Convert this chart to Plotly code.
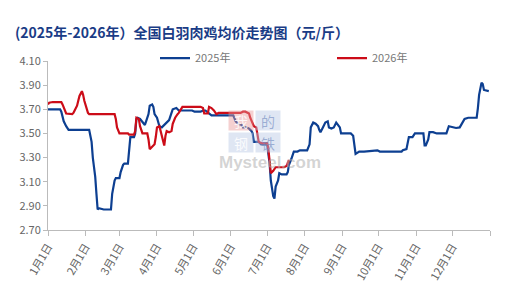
import plotly.graph_objects as go

# ---- data ----
title_text = "(2025年-2026年）全国白羽肉鸡均价走势图（元/斤）"
series_names = ["2025年", "2026年"]

dates_2025 = ["01-01","01-11","01-12","01-14","01-16","01-18","02-04","02-05","02-06","02-07",
              "02-09","02-10","02-11","02-12","02-16","02-22","02-23","02-25","02-26","03-01",
              "03-02","03-04","03-05","03-08","03-09","03-10","03-13","03-14","03-15","03-16",
              "03-18","03-20","03-21","03-22","03-23","03-25","03-26","03-28","03-29","03-30",
              "04-01","04-02","04-03","04-05","04-06","04-08","04-09","04-11","04-13","04-14",
              "04-17","04-19","04-30","05-02","05-07","05-09","05-11","05-14","05-16","06-03",
              "06-04","06-05","06-07","06-10","06-11","06-14","06-16","06-18","06-19","06-20",
              "06-24","06-26","07-01","07-03","07-04","07-06","07-07","07-08","07-10","07-11",
              "07-13","07-17","07-18","07-19","07-21","07-22","07-23","07-26","07-28","08-03",
              "08-05","08-06","08-08","08-10","08-12","08-13","08-14","08-16","08-18","08-20",
              "08-21","08-23","08-25","08-27","08-30","08-31","09-08","09-10","09-11","09-12",
              "09-15","09-19","09-30","10-02","10-20","10-21","10-24","10-26","10-29","10-31",
              "11-07","11-08","11-09","11-11","11-12","11-15","11-18","11-26","11-28","12-02",
              "12-04","12-07","12-08","12-11","12-14","12-21","12-22","12-23","12-25","12-26",
              "12-27","12-31"]
values_2025 = [3.70,3.70,3.68,3.60,3.56,3.53,3.53,3.47,3.43,3.30,
               3.14,3.00,2.87,2.88,2.87,2.87,3.00,3.11,3.13,3.13,
               3.18,3.24,3.25,3.25,3.39,3.47,3.47,3.50,3.62,3.63,
               3.62,3.59,3.58,3.57,3.60,3.66,3.73,3.74,3.72,3.66,
               3.63,3.58,3.56,3.55,3.56,3.58,3.59,3.61,3.67,3.70,
               3.71,3.69,3.69,3.68,3.68,3.69,3.69,3.67,3.65,3.65,
               3.63,3.60,3.58,3.57,3.55,3.55,3.54,3.52,3.50,3.43,
               3.43,3.41,3.41,3.25,3.11,2.98,2.96,3.06,3.11,3.17,
               3.16,3.16,3.18,3.24,3.29,3.33,3.35,3.35,3.36,3.36,
               3.41,3.55,3.59,3.58,3.56,3.53,3.51,3.55,3.59,3.60,
               3.55,3.54,3.55,3.59,3.55,3.50,3.50,3.48,3.39,3.33,
               3.35,3.35,3.36,3.35,3.35,3.36,3.37,3.47,3.47,3.50,
               3.50,3.40,3.40,3.45,3.51,3.51,3.50,3.50,3.56,3.55,
               3.545,3.55,3.57,3.62,3.63,3.63,3.71,3.82,3.92,3.91,
               3.86,3.85]

dates_2026 = ["01-01","01-02","01-05","01-12","01-13","01-14","01-16","01-21","01-22","01-23",
              "01-25","01-26","01-27","01-29","01-30","01-31","02-01","02-03","02-04","02-25",
              "02-26","02-27","03-01","03-08","03-09","03-13","03-14","03-15","03-17","03-18",
              "03-20","03-24","03-25","03-26","03-28","03-30","03-31","04-01","04-03","04-04",
              "04-06","04-07","04-08","04-09","04-11","04-13","04-14","04-16","04-18","04-19",
              "04-22","05-07","05-09","05-10","05-13","05-14","05-16","05-18","05-20","05-22",
              "06-09","06-11","06-13","06-16","06-17","06-19","06-20","06-22","06-23","06-24",
              "06-26","07-01","07-02","07-03","07-04","07-06","07-08","07-15","07-17","07-19"]
values_2026 = [3.74,3.755,3.76,3.76,3.74,3.71,3.665,3.66,3.67,3.69,
               3.73,3.77,3.81,3.85,3.82,3.77,3.73,3.67,3.66,3.66,
               3.62,3.55,3.50,3.50,3.49,3.49,3.52,3.63,3.62,3.56,
               3.50,3.50,3.45,3.37,3.39,3.41,3.47,3.55,3.56,3.52,
               3.45,3.40,3.48,3.52,3.51,3.52,3.58,3.63,3.66,3.67,
               3.72,3.72,3.71,3.665,3.665,3.72,3.71,3.69,3.66,3.67,
               3.67,3.68,3.68,3.665,3.63,3.59,3.56,3.55,3.48,3.43,
               3.42,3.42,3.37,3.26,3.17,3.19,3.22,3.22,3.23,3.28]

month_ticks = ["2025-%02d-01" % m for m in range(1, 13)] + ["2026-01-01"]
month_labels = ["%d月1日" % m for m in range(1, 13)] + [""]
y_ticks = [2.70, 2.90, 3.10, 3.30, 3.50, 3.70, 3.90, 4.10]

# ---- figure ----
FONT = "Microsoft YaHei, Noto Sans CJK SC, sans-serif"
W, H = 522, 295
L, R, T, B = 48, 32, 61, 63
PW, PH = W - L - R, H - T - B

def px_x(px):
    return (px - L) / PW

def px_y(py):
    return (H - B - py) / PH

fig = go.Figure()
fig.add_trace(go.Scatter(x=["2025-" + d for d in dates_2025], y=values_2025,
                         mode="lines", name=series_names[0],
                         line=dict(color="#0d3f91", width=2.2)))
fig.add_trace(go.Scatter(x=["2025-" + d for d in dates_2026], y=values_2026,
                         mode="lines", name=series_names[1],
                         line=dict(color="#cc0c18", width=2.2)))

fig.update_layout(
    width=W, height=H,
    margin=dict(l=L, r=R, t=T, b=B),
    paper_bgcolor="white", plot_bgcolor="white",
    font=dict(family=FONT, size=11, color="#666666"),
    showlegend=True,
    legend=dict(orientation="h", x=px_x(155), y=px_y(58), xanchor="left", yanchor="middle",
                font=dict(size=11, color="#777777"), entrywidth=132, entrywidthmode="pixels",
                bgcolor="rgba(0,0,0,0)", itemclick=False),
    xaxis=dict(type="date", range=["2025-01-01", "2026-01-01"],
               tickvals=month_ticks, ticktext=month_labels, tickangle=-60,
               showgrid=False, zeroline=False, showline=True, linecolor="#bbbbbb", linewidth=1,
               ticks="outside", ticklen=5, tickcolor="#bbbbbb",
               tickfont=dict(size=11, color="#666666")),
    yaxis=dict(range=[2.70, 4.10], tickvals=y_ticks, tickformat=".2f",
               showgrid=False, zeroline=False, showline=True, linecolor="#bbbbbb", linewidth=1,
               ticks="outside", ticklen=4, tickcolor="#bbbbbb",
               tickfont=dict(size=11, color="#666666")),
    hovermode=False,
)

fig.add_annotation(text="<b>" + title_text + "</b>", xref="paper", yref="paper",
                   x=px_x(13), y=px_y(32), xanchor="left", yanchor="middle", showarrow=False,
                   font=dict(family=FONT, size=14, color="#1a3c86"))

# watermark
wm_boxes = [("我", 241, 121, "rgba(232,150,150,0.45)", "rgba(255,255,255,0.85)"),
            ("的", 268, 121, "rgba(185,200,228,0.45)", "rgba(110,135,190,0.6)"),
            ("钢", 241, 143, "rgba(185,200,228,0.45)", "rgba(255,255,255,0.85)"),
            ("铁", 268, 143, "rgba(185,200,228,0.45)", "rgba(110,135,190,0.6)")]
for ch, cx, cy, bg, fc in wm_boxes:
    fig.add_annotation(text=ch, xref="paper", yref="paper", x=px_x(cx), y=px_y(cy),
                       xanchor="center", yanchor="middle", showarrow=False,
                       bgcolor=bg, borderpad=0, width=24, height=19,
                       font=dict(family="Noto Sans CJK SC", size=14, color=fc))
fig.add_annotation(text="<b>Mysteel.com</b>", xref="paper", yref="paper",
                   x=px_x(270), y=px_y(164), xanchor="center", yanchor="middle", showarrow=False,
                   font=dict(family="Liberation Sans, Arial", size=17, color="rgba(175,175,175,0.55)"))

fig.write_html("out.html")
